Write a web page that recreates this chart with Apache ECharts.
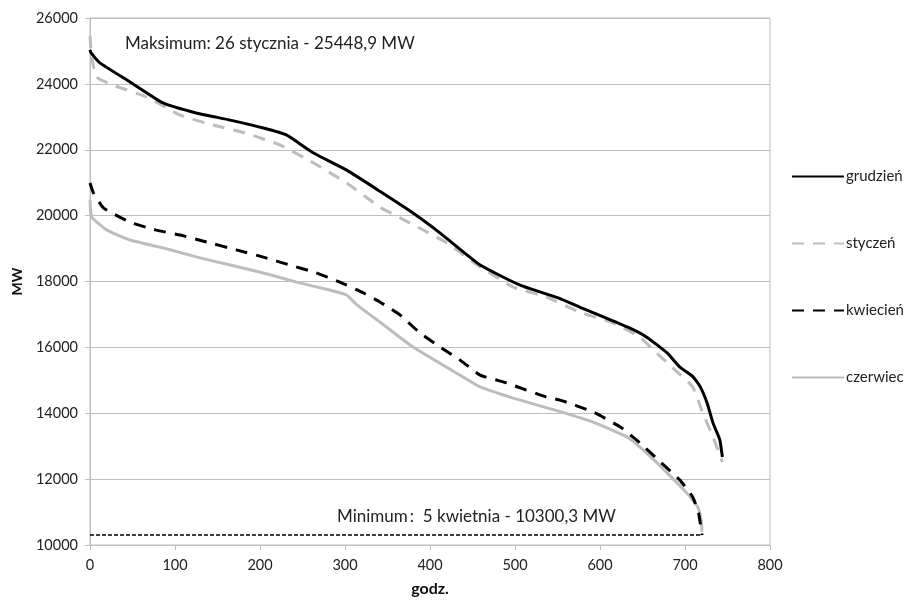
<!DOCTYPE html>
<html><head><meta charset="utf-8">
<script src="https://cdn.jsdelivr.net/npm/echarts@6/dist/echarts.min.js"></script>
<style>html,body{margin:0;padding:0;background:#fff}#c{width:916px;height:600px}</style>
</head><body><div id="c"></div>
<script>
const seriesNames = ['grudzień', 'styczeń', 'kwiecień', 'czerwiec'];
const xTicks = [0, 100, 200, 300, 400, 500, 600, 700, 800];
const yTicks = [10000, 12000, 14000, 16000, 18000, 20000, 22000, 24000, 26000];

const grudzienHours = [0, 1, 12, 47, 86, 126, 165, 204, 231, 263, 302, 341, 380, 412, 459, 506, 553, 576, 632, 655, 679, 694, 709, 718, 726, 733, 741, 744];
const grudzienMW = [25030, 24950, 24630, 24060, 23420, 23110, 22900, 22660, 22450, 21900, 21380, 20740, 20080, 19470, 18500, 17890, 17480, 17225, 16620, 16310, 15830, 15400, 15120, 14800, 14310, 13700, 13190, 12670];

const styczenHours = [0, 2, 8, 27, 67, 106, 145, 184, 224, 263, 302, 341, 365, 420, 459, 498, 537, 576, 616, 647, 663, 682, 709, 721, 733, 744];
const styczenMW = [25449, 24800, 24200, 23960, 23600, 23050, 22750, 22500, 22140, 21600, 20990, 20260, 19930, 19170, 18440, 17830, 17530, 17070, 16740, 16310, 15920, 15460, 14800, 14000, 13280, 12520];

const kwiecienHours = [0, 4, 16, 47, 78, 106, 137, 172, 204, 235, 263, 294, 322, 341, 365, 388, 412, 435, 459, 490, 537, 553, 592, 624, 647, 671, 694, 709, 716, 720];
const kwiecienMW = [20990, 20690, 20230, 19800, 19560, 19410, 19200, 18960, 18740, 18500, 18290, 17980, 17650, 17380, 16980, 16440, 16010, 15620, 15160, 14920, 14490, 14400, 14040, 13580, 13100, 12520, 11970, 11460, 10970, 10300];

const czerwiecHours = [0, 2, 20, 47, 86, 126, 165, 204, 243, 282, 302, 314, 341, 380, 439, 459, 498, 553, 592, 632, 655, 679, 702, 715, 719, 720];
const czerwiecMW = [20470, 19960, 19560, 19260, 19020, 18740, 18500, 18260, 17980, 17740, 17590, 17290, 16770, 16010, 15100, 14800, 14460, 14050, 13730, 13280, 12790, 12190, 11580, 11150, 10760, 10400];

const minimumValue = 10300.3;
const minimumHours = [0, 720];
const maxLabel = 'Maksimum: 26 stycznia - 25448,9 MW';
const minLabel = 'Minimum\u2009:  5 kwietnia - 10300,3 MW';

const zip = (a, b) => a.map((v, i) => [v, b[i]]);
const FONT = 'Lato';
const chart = echarts.init(document.getElementById('c'), null, {renderer: 'canvas'});
const mk = (name, data, color, type, extra) => Object.assign({
  name, type: 'line', data, symbol: 'none', showSymbol: false, smooth: 0.15,
  lineStyle: {color, width: 3, type, cap: 'butt'},
  itemStyle: {color}, z: 3
}, extra || {});
chart.setOption({
  animation: false,
  textStyle: {fontFamily: FONT},
  grid: {left: 90, right: 146, top: 18, bottom: 55, show: true, borderColor: '#bfbfbf', borderWidth: 1,
         containLabel: false, outerBoundsMode: 'none'},
  xAxis: {
    type: 'value', min: xTicks[0], max: xTicks[xTicks.length - 1], interval: 100,
    name: 'godz.', nameLocation: 'middle', nameGap: 36,
    nameTextStyle: {fontFamily: FONT, fontWeight: 'bold', fontSize: 16, color: '#111'},
    axisLine: {show: true, lineStyle: {color: '#bfbfbf'}},
    axisTick: {show: true, length: 5, lineStyle: {color: '#bfbfbf'}},
    axisLabel: {fontFamily: FONT, fontSize: 14.5, color: '#222', margin: 13, formatter: v => String(v)},
    splitLine: {show: false}
  },
  yAxis: {
    type: 'value', min: yTicks[0], max: yTicks[yTicks.length - 1], interval: 2000,
    name: 'MW', nameLocation: 'middle', nameGap: 66, nameRotate: 90,
    nameTextStyle: {fontFamily: FONT, fontWeight: 'bold', fontSize: 14, color: '#111'},
    axisLine: {show: true, lineStyle: {color: '#bfbfbf'}},
    axisTick: {show: true, length: 5, lineStyle: {color: '#bfbfbf'}},
    axisLabel: {fontFamily: FONT, fontSize: 14.5, color: '#222', margin: 12, formatter: v => String(v)},
    splitLine: {show: true, lineStyle: {color: '#bfbfbf', width: 1}}
  },
  legend: {
    orient: 'vertical', left: 786, top: 164, itemWidth: 52, itemHeight: 14, itemGap: 52,
    data: seriesNames,
    itemStyle: {opacity: 0, borderWidth: 0},
    textStyle: {fontFamily: FONT, fontSize: 15, color: '#222', padding: [0, 0, 0, -3]}
  },
  series: [
    mk('czerwiec', zip(czerwiecHours, czerwiecMW), '#bdbdbd', 'solid'),
    mk('kwiecień', zip(kwiecienHours, kwiecienMW), '#000000', [12, 9], {
      markLine: {
        silent: true, symbol: 'none', label: {show: false},
        lineStyle: {color: '#000', width: 1.5, type: [4, 2]},
        data: [[{coord: [minimumHours[0], minimumValue]}, {coord: [minimumHours[1], minimumValue]}]]
      }
    }),
    mk('styczeń', zip(styczenHours, styczenMW), '#bdbdbd', [12, 9]),
    mk('grudzień', zip(grudzienHours, grudzienMW), '#000000', 'solid')
  ],
  graphic: [
    {type: 'text', left: 125, top: 35, style: {text: maxLabel, font: '17px ' + FONT, fill: '#222'}},
    {type: 'text', left: 337, top: 508, style: {text: minLabel, font: '17px ' + FONT, fill: '#222'}}
  ]
});
</script></body></html>
